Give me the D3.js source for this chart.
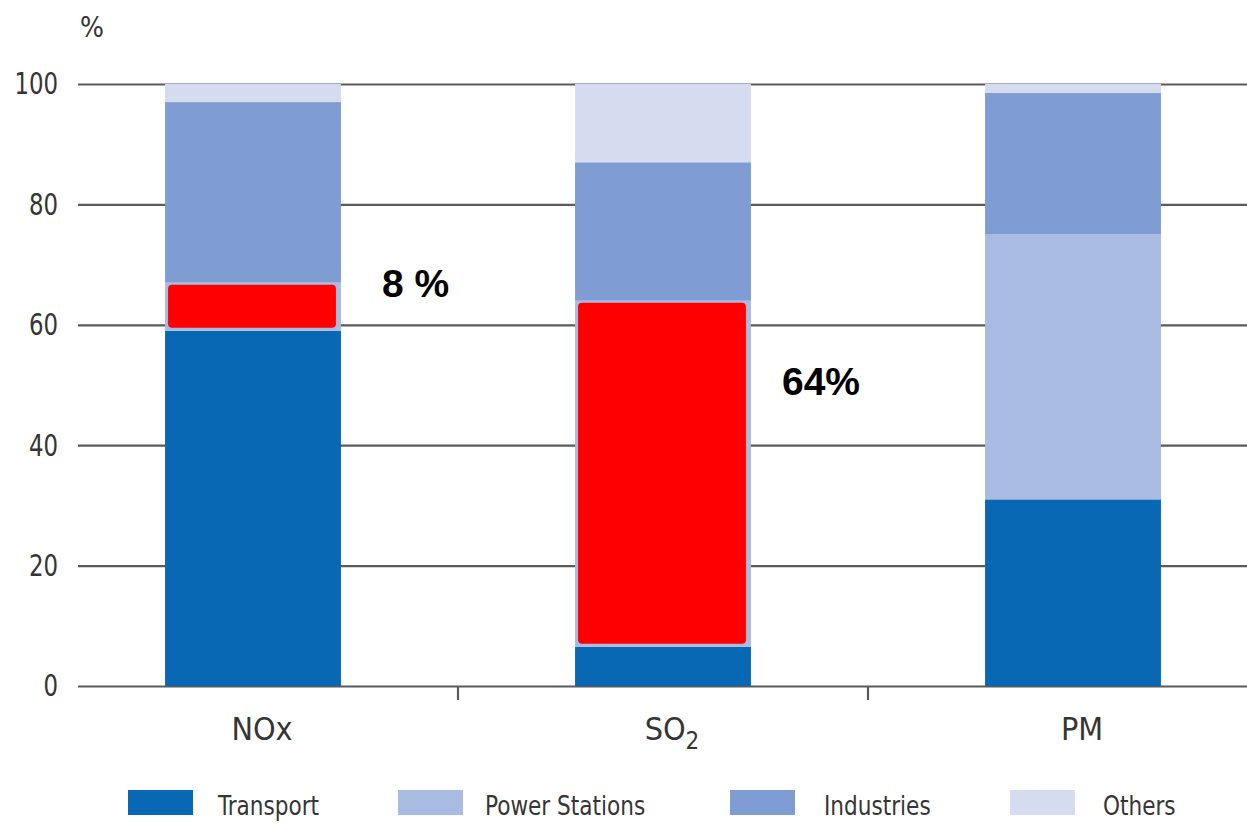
<!DOCTYPE html>
<html>
<head>
<meta charset="utf-8">
<script src="https://cdn.jsdelivr.net/npm/d3@7/dist/d3.min.js"></script>
<style>
  html, body { margin: 0; padding: 0; background: #fff; }
  svg { display: block; }
  .cond { font-family: "DejaVu Sans Condensed", "DejaVu Sans", sans-serif; font-stretch: condensed; fill: #353535; }
</style>
</head>
<body>
<svg id="chart" width="1247" height="824"></svg>
<script>
// Share of emissions by source, in percent
const pollutants = ["NOx", "SO2", "PM"];
const sources = ["Transport", "Power Stations", "Industries", "Others"];
const transport     = [59, 6.5, 31];
const powerStations = [8, 57.5, 44];
const industries    = [30, 23, 23.5];
const others        = [3, 13, 1.5];
const yTicks = [0, 20, 40, 60, 80, 100];
const sourceColors = ["#0868b4", "#a9bbe0", "#7f9dd2", "#d5dcef"];

// Highlighted segments with their callout text
const highlights = [
  { pollutant: "NOx", source: "Power Stations", text: "8 %" },
  { pollutant: "SO2", source: "Power Stations", text: "64%" }
];

const svg = d3.select("#chart");
const W = 1247;

const rows = pollutants.map((p, i) => ({
  pollutant: p,
  "Transport": transport[i],
  "Power Stations": powerStations[i],
  "Industries": industries[i],
  "Others": others[i]
}));
const stacked = d3.stack().keys(sources)(rows);

const x = d3.scaleBand().domain(pollutants).range([48, 1278])
  .paddingInner(0.571).paddingOuter(0.2855);
const y = d3.scaleLinear().domain([0, 100]).range([686, 84]);
const color = d3.scaleOrdinal().domain(sources).range(sourceColors);

// gridlines + y labels
const yAxis = svg.append("g")
  .attr("transform", "translate(78,0)")
  .call(d3.axisLeft(y).tickValues(yTicks).tickSize(-(W - 78)).tickPadding(20));
yAxis.select(".domain").remove();
yAxis.selectAll(".tick line").attr("stroke", "#5a5a5a").attr("stroke-width", 2.2);
yAxis.selectAll(".tick text")
  .attr("class", "cond")
  .style("font-size", "31px")
  .attr("transform", "scale(0.82,1)")
  .attr("x", -20 / 0.82);

// unit label
svg.append("text").attr("class", "cond")
  .attr("x", 80).attr("y", 37)
  .style("font-size", "28px")
  .text("%");

// stacked bars
svg.append("g").selectAll("g")
  .data(stacked).join("g")
  .attr("fill", d => color(d.key))
  .selectAll("rect")
  .data(d => d).join("rect")
  .attr("x", d => x(d.data.pollutant))
  .attr("width", x.bandwidth())
  .attr("y", d => y(d[1]))
  .attr("height", d => y(d[0]) - y(d[1]));

// category separators on the baseline
const seps = pollutants.slice(1).map(p => x(p) - x.step() * x.paddingInner() / 2);
svg.append("g").selectAll("line")
  .data(seps).join("line")
  .attr("x1", d => d).attr("x2", d => d)
  .attr("y1", y(0)).attr("y2", y(0) + 14)
  .attr("stroke", "#5a5a5a").attr("stroke-width", 2.2);

// category labels
const xl = svg.append("g").selectAll("text")
  .data(pollutants).join("text")
  .attr("class", "cond")
  .attr("x", d => x(d) + x.bandwidth() / 2 + 9)
  .attr("y", 740)
  .attr("text-anchor", "middle")
  .style("font-size", "32px");
xl.each(function (d) {
  const t = d3.select(this);
  if (d === "SO2") {
    t.append("tspan").text("SO");
    t.append("tspan").attr("dy", 9).style("font-size", "24px").text("2");
  } else {
    t.text(d);
  }
});

// highlighted segments
const hlOffsets = { NOx: { dx: 41, dy: 14 }, SO2: { dx: 31, dy: 94 } };
highlights.forEach(h => {
  const series = stacked.find(s => s.key === h.source);
  const seg = series[pollutants.indexOf(h.pollutant)];
  const bx = x(h.pollutant), bw = x.bandwidth();
  svg.append("rect")
    .attr("x", bx + 3).attr("width", bw - 8)
    .attr("y", y(seg[1]) + 2).attr("height", y(seg[0]) - y(seg[1]) - 5)
    .attr("rx", 4).attr("fill", "#ff0000");
  const off = hlOffsets[h.pollutant];
  svg.append("text")
    .attr("x", bx + bw + off.dx)
    .attr("y", y(seg[1]) + off.dy)
    .style("font-family", "'Liberation Sans', Arial, sans-serif")
    .style("font-weight", "bold")
    .style("font-size", "39px")
    .attr("fill", "#000")
    .text(h.text);
});

// legend
const legendX = [128, 398, 730, 1010];
const textScale = 0.89;
const lg = svg.append("g").selectAll("g")
  .data(sources).join("g")
  .attr("transform", (d, i) => `translate(${legendX[i]},790)`);
lg.append("rect").attr("width", 65).attr("height", 25).attr("fill", d => color(d));
lg.append("text").attr("class", "cond")
  .attr("transform", `scale(${textScale},1)`)
  .attr("x", (d, i) => [90, 87, 94, 93][i] / textScale)
  .attr("y", 25)
  .style("font-size", "27px")
  .text(d => d);
</script>
</body>
</html>
